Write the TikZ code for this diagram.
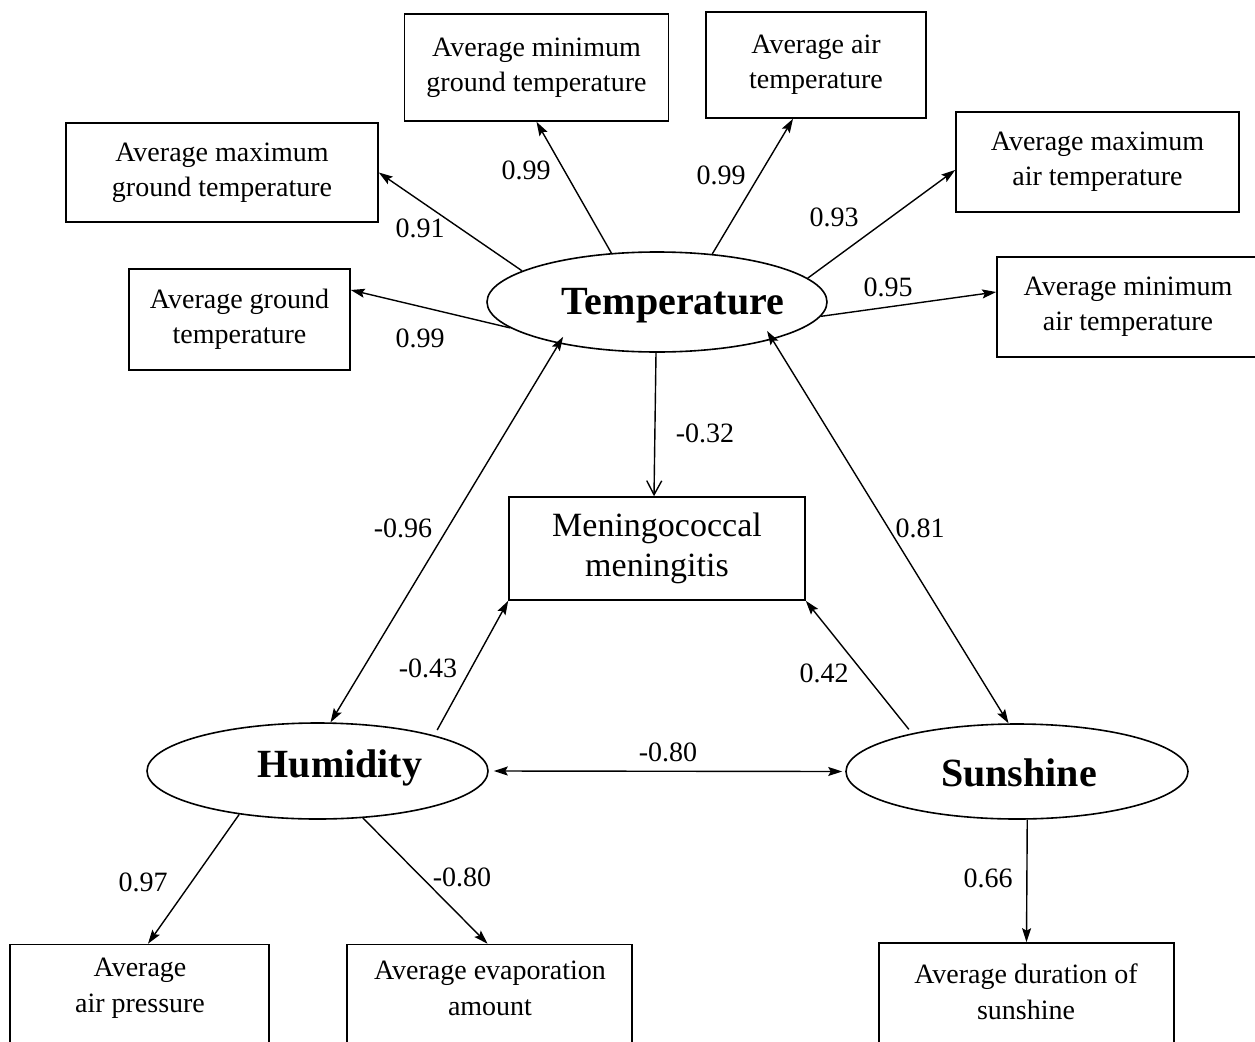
\documentclass[tikz,border=0pt]{standalone}
\usepackage{fontspec}
\setmainfont{Liberation Serif}
\usetikzlibrary{arrows.meta,calc,shapes.geometric}
\begin{document}
\begin{tikzpicture}[x=1pt,y=-1pt,
  box/.style={draw, line width=1.6pt, rectangle, inner sep=0pt, align=center, font=\fontsize{28}{35}\selectfont},
  btext/.style={inner sep=0pt, align=center, font=\fontsize{28}{36}\selectfont},
  lat/.style={draw, line width=1.6pt, ellipse, inner sep=0pt},
  latlab/.style={inner sep=0pt, font=\fontsize{40}{40}\selectfont\bfseries, anchor=base},
  num/.style={inner sep=0pt, font=\fontsize{28}{28}\selectfont},
  arr/.style={line width=1.4pt, -{Stealth[length=14pt,width=9pt,inset=2.5pt]}},
  dbl/.style={line width=1.4pt, {Stealth[length=14pt,width=9pt,inset=2.5pt]}-{Stealth[length=14pt,width=9pt,inset=2.5pt]}},
  openarr/.style={line width=1.4pt, -{Straight Barb[length=14pt,width=15pt]}}
]
\useasboundingbox (0,0) rectangle (1255,1041);
\clip (0,0) rectangle (1255,1041);

% observed variables
\node[box, minimum width=264pt, minimum height=107pt] (mgt) at (536.5,67.5) {Average minimum\\ground temperature};
\node[box, minimum width=220pt, minimum height=106pt] (at) at (816,65) {Average air\\temperature};
\node[box, minimum width=283pt, minimum height=100pt] (maxat) at (1097.5,162) {Average maximum\\air temperature};
\node[box, minimum width=312pt, minimum height=99pt] (maxgt) at (222,172.5) {Average maximum\\ground temperature};
\node[box, minimum width=221pt, minimum height=101pt] (gt) at (239.5,319.5) {Average ground\\temperature};
\node[box, minimum width=262pt, minimum height=100pt] (minat) at (1128,307) {Average minimum\\air temperature};
\node[box, minimum width=296pt, minimum height=103pt, font=\fontsize{34}{40}\selectfont] (M) at (657,548.5) {Meningococcal\\meningitis};

\node[box, minimum width=259pt, minimum height=101pt] (pr) at (139.5,995) {};
\node[btext] (prt) at (140,988) {Average\\air pressure};
\node[box, minimum width=285pt, minimum height=101pt] (ev) at (489.5,995) {};
\node[btext] (evt) at (490,988) {Average evaporation\\amount};
\node[box, minimum width=295pt, minimum height=102pt] (du) at (1026.5,994) {};
\node[btext] (dut) at (1026,992) {Average duration of\\sunshine};

% latent variables
\node[lat, minimum width=340pt, minimum height=100pt] (T) at (657,302) {};
\node[latlab] (Tl) at (673,314) {Temperature};
\node[lat, minimum width=341pt, minimum height=96pt] (H) at (317.5,771) {};
\node[latlab] (Hl) at (340,777) {Humidity};
\node[lat, minimum width=342pt, minimum height=95pt] (S) at (1017,771.5) {};
\node[latlab] (Sl) at (1019,786) {Sunshine};

% connectors
\draw[arr] (T.190.8) -- ([yshift=29.5pt]gt.east);
\draw[arr] (T.167) -- (maxgt.east);
\draw[arr] (T.133.8) -- (mgt.south);
\draw[arr] (T.41.6) -- ([xshift=-23pt]at.south);
\draw[arr] (T.9.1) -- ([yshift=-8pt]maxat.west);
\draw[arr] (T.355.6) -- ([yshift=15pt]minat.west);
\draw[openarr] ([xshift=-1pt]T.south) -- ([xshift=-3pt]M.north);
\draw[dbl, shorten <=-8pt] (T.203.2) -- (H.75.7);
\draw[dbl, shorten <=-10pt] (T.342.2) -- (S.100.7);
\draw[arr, shorten <=6pt] (H.17.2) -- (M.south west);
\draw[arr, shorten <=5pt] (S.160.3) -- (M.south east);
\draw[dbl] ([xshift=5pt]H.east) -- ([xshift=-3pt]S.west);
\draw[arr] (H.209.8) -- ([xshift=8.5pt]pr.north);
\draw[arr] (H.314.1) -- ([xshift=-2pt]ev.north);
\draw[arr] (S.282) -- (du.north);

% coefficients
\node[num] (c1) at (420,338) {0.99};
\node[num] (c2) at (420,228) {0.91};
\node[num] (c3) at (526,170) {0.99};
\node[num] (c4) at (721,175) {0.99};
\node[num] (c5) at (834,217) {0.93};
\node[num] (c6) at (888,287) {0.95};
\node[num] (c7) at (705,433) {-0.32};
\node[num] (c8) at (403,528) {-0.96};
\node[num] (c9) at (920,528) {0.81};
\node[num] (c10) at (428,668) {-0.43};
\node[num] (c11) at (824,673) {0.42};
\node[num] (c12) at (668,752) {-0.80};
\node[num] (c13) at (143,882) {0.97};
\node[num] (c14) at (462,877) {-0.80};
\node[num] (c15) at (988,878) {0.66};
\end{tikzpicture}
\end{document}
